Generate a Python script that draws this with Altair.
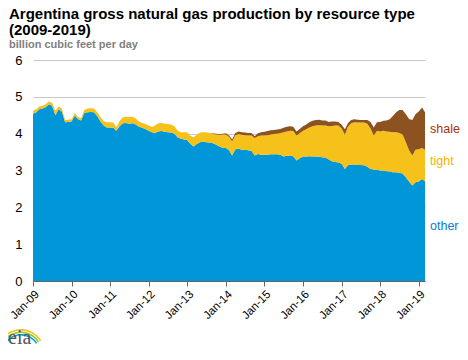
import altair as alt
import pandas as pd

other = [4.54, 4.58, 4.66, 4.68, 4.72, 4.80, 4.76, 4.50, 4.66, 4.60, 4.31, 4.32,
         4.33, 4.49, 4.40, 4.36, 4.56, 4.58, 4.59, 4.58, 4.48, 4.33, 4.22, 4.17,
         4.17, 4.16, 4.08, 4.20, 4.28, 4.29, 4.27, 4.28, 4.25, 4.19, 4.16, 4.13,
         4.08, 4.04, 4.02, 4.06, 4.07, 4.05, 4.04, 4.03, 4.00, 3.90, 3.86, 3.84,
         3.82, 3.72, 3.65, 3.72, 3.77, 3.78, 3.77, 3.76, 3.74, 3.70, 3.65, 3.62,
         3.61, 3.55, 3.41, 3.58, 3.59, 3.56, 3.56, 3.55, 3.53, 3.41, 3.45, 3.43,
         3.43, 3.43, 3.44, 3.44, 3.44, 3.43, 3.38, 3.40, 3.41, 3.39, 3.27, 3.33,
         3.38, 3.38, 3.39, 3.38, 3.38, 3.37, 3.36, 3.35, 3.30, 3.25, 3.23, 3.22,
         3.18, 3.04, 3.14, 3.16, 3.16, 3.15, 3.15, 3.14, 3.10, 3.04, 3.03, 3.02,
         3.00, 3.00, 2.98, 2.97, 2.95, 2.95, 2.94, 2.92, 2.82, 2.70, 2.59, 2.68,
         2.70, 2.77, 2.71]

tight = [0.08, 0.08, 0.08, 0.08, 0.08, 0.07, 0.08, 0.12, 0.08, 0.08, 0.06, 0.06,
         0.06, 0.07, 0.06, 0.06, 0.08, 0.10, 0.10, 0.10, 0.10, 0.12, 0.12, 0.14,
         0.14, 0.14, 0.09, 0.15, 0.16, 0.17, 0.18, 0.18, 0.16, 0.14, 0.13, 0.13,
         0.14, 0.14, 0.20, 0.22, 0.22, 0.22, 0.22, 0.22, 0.20, 0.18, 0.18, 0.20,
         0.22, 0.22, 0.25, 0.25, 0.26, 0.26, 0.27, 0.26, 0.26, 0.28, 0.32, 0.36,
         0.37, 0.36, 0.38, 0.38, 0.40, 0.41, 0.40, 0.40, 0.42, 0.47, 0.48, 0.52,
         0.52, 0.53, 0.54, 0.55, 0.56, 0.58, 0.66, 0.66, 0.67, 0.68, 0.68, 0.68,
         0.70, 0.74, 0.78, 0.82, 0.84, 0.86, 0.86, 0.87, 0.90, 0.96, 0.99, 1.00,
         0.96, 0.93, 1.05, 1.12, 1.15, 1.15, 1.15, 1.16, 1.17, 1.10, 0.92, 1.05,
         1.06, 1.08, 1.08, 1.08, 1.09, 1.09, 1.08, 1.06, 0.95, 0.85, 0.82, 0.88,
         0.88, 0.84, 0.85]

shale = ([0.0] * 48 +
         [0.0] * 8 + [0.01, 0.02, 0.02, 0.02] +
         [0.03, 0.04, 0.05, 0.06, 0.07, 0.07, 0.07, 0.07, 0.07, 0.05, 0.08, 0.09] +
         [0.10, 0.11, 0.11, 0.11, 0.11, 0.12, 0.12, 0.13, 0.12, 0.12, 0.11, 0.12] +
         [0.12, 0.13, 0.14, 0.15, 0.15, 0.15, 0.14, 0.14, 0.12, 0.12, 0.11, 0.10] +
         [0.10, 0.15, 0.09, 0.09, 0.08, 0.08, 0.07, 0.07, 0.10, 0.18, 0.22, 0.24] +
         [0.26, 0.27, 0.30, 0.34, 0.44, 0.54, 0.62, 0.66, 0.76, 0.85, 0.96, 0.97] +
         [1.02, 1.10, 1.02])

series_names = ["other", "tight", "shale"]
series_colors = ["#0096d7", "#f6c11b", "#8c5320"]
label_colors = ["#0a7bd7", "#f5b400", "#a8300e"]
label_y = [1.49, 3.27, 4.13]
y_ticks = [0, 1, 2, 3, 4, 5, 6]
logo_colors = ["#f5c11b", "#8dc63f", "#00a0dc"]

dates = pd.date_range("2009-01-01", periods=len(other), freq="MS")
rows = []
for name, vals, order in [("other", other, 0), ("tight", tight, 1), ("shale", shale, 2)]:
    for d, v in zip(dates, vals):
        rows.append({"date": d, "type": name, "value": v, "ord": order})
df = pd.DataFrame(rows)

labels = pd.DataFrame({
    "date": [dates[-1]] * 3,
    "type": series_names,
    "value": label_y,
    "c": label_colors,
})

logo_df = pd.DataFrame({"c": logo_colors, "r": [24, 21.5, 19]})

FONT = "Liberation Sans"
tick_dates = [alt.DateTime(year=y, month=1, date=1) for y in range(2009, 2020)]
xscale = alt.Scale(domain=[alt.DateTime(year=2009, month=1, date=1),
                           alt.DateTime(year=2019, month=3, date=1)])
yscale = alt.Scale(domain=[0, 6], nice=False)

xaxis = alt.Axis(values=tick_dates, format="%b-%y", labelAngle=-45,
                 labelOverlap=False, labelBound=False,
                 title=None, grid=False, domainColor="#666666",
                 tickColor="#666666", tickSize=5, labelFontSize=11.5,
                 labelColor="#000000", labelFont=FONT, labelPadding=2)
yaxis = alt.Axis(values=y_ticks, title=None, domain=False, ticks=False,
                 labelOverlap=False,
                 gridColor="#c8c8c8", labelFontSize=13, labelColor="#000000",
                 labelFont=FONT, labelPadding=11)

area = alt.Chart(df).mark_area(interpolate="linear").encode(
    x=alt.X("date:T", scale=xscale, axis=xaxis),
    y=alt.Y("value:Q", stack="zero", scale=yscale, axis=yaxis),
    color=alt.Color("type:N", scale=alt.Scale(domain=series_names, range=series_colors),
                    legend=None),
    order=alt.Order("ord:Q"),
)

text = alt.Chart(labels).mark_text(align="left", dx=5, fontSize=12.5, font=FONT).encode(
    x=alt.X("date:T", scale=xscale, axis=xaxis),
    y=alt.Y("value:Q", scale=yscale, axis=yaxis),
    text="type:N",
    color=alt.Color("c:N", scale=None),
)

logo = alt.Chart(labels).mark_text(
    align="left", baseline="alphabetic", font="Liberation Serif", fontSize=20,
    color="#555555", text="eia"
).encode(x=alt.value(-25), y=alt.value(284)).transform_filter("datum.type == 'other'")

swoosh = alt.Chart(logo_df).transform_calculate(r2="datum.r - 1.6").mark_arc(
    theta=5.4, theta2=7.3
).encode(
    x=alt.value(-12),
    y=alt.value(293),
    radius=alt.Radius("r:Q", scale=None),
    radius2=alt.Radius2("r2:Q"),
    color=alt.Color("c:N", scale=None),
)

chart = alt.layer(area, text, swoosh, logo).properties(
    width=392, height=221,
    autosize=alt.AutoSizeParams(type="none"),
    padding={"left": 25, "top": 52, "right": 35, "bottom": 66},
    title=alt.TitleParams(
        text=["Argentina gross natural gas production by resource type", "(2009-2019)"],
        subtitle="billion cubic feet per day",
        anchor="start", frame="group", dx=-24, offset=4,
        font=FONT, fontSize=15, fontWeight="bold", color="#000000", lineHeight=16,
        subtitleFont=FONT, subtitleFontSize=11, subtitleColor="#808080",
        subtitleFontWeight="bold", subtitlePadding=1,
    ),
).configure_view(stroke=None)

chart.save("out.html", embed_options={"renderer": "svg", "actions": False})
